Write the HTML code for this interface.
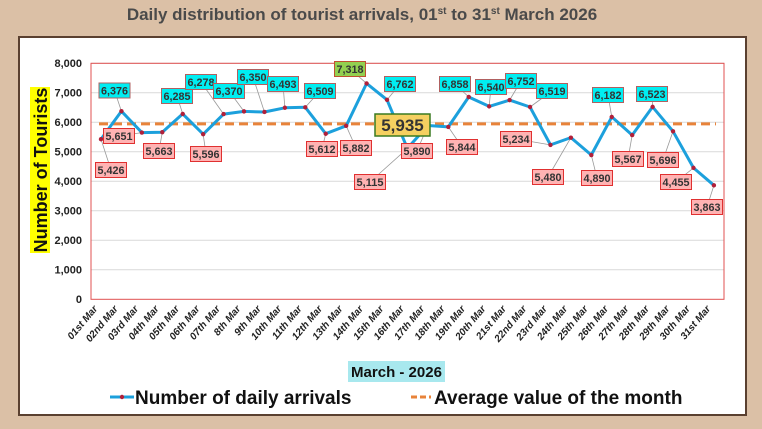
<!DOCTYPE html>
<html><head><meta charset="utf-8"><style>
html,body{margin:0;padding:0;background:#dbc0a6;}
svg{display:block;font-family:"Liberation Sans",sans-serif;}
</style></head><body>
<svg width="762" height="429" viewBox="0 0 762 429" xmlns="http://www.w3.org/2000/svg">
<rect x="0" y="0" width="762" height="429" fill="#dbc0a6"/>
<text x="362" y="20" text-anchor="middle" font-size="17" font-weight="bold" fill="#4a4a4a">Daily distribution of tourist arrivals, 01<tspan font-size="10" dy="-6">st</tspan><tspan dy="6"> to 31</tspan><tspan font-size="10" dy="-6">st</tspan><tspan dy="6"> March 2026</tspan></text>
<rect x="19" y="37" width="727" height="378" fill="#fff" stroke="#5a4030" stroke-width="2"/>
<g stroke="#d9d9d9" stroke-width="1">
<line x1="91" x2="724" y1="63.3" y2="63.3"/><line x1="91" x2="724" y1="92.8" y2="92.8"/><line x1="91" x2="724" y1="122.3" y2="122.3"/><line x1="91" x2="724" y1="151.8" y2="151.8"/><line x1="91" x2="724" y1="181.3" y2="181.3"/><line x1="91" x2="724" y1="210.8" y2="210.8"/><line x1="91" x2="724" y1="240.3" y2="240.3"/><line x1="91" x2="724" y1="269.8" y2="269.8"/>
</g>
<rect x="91" y="63.3" width="633" height="236" fill="none" stroke="#e05050" stroke-width="1"/>
<g font-size="11" font-weight="bold" fill="#222" text-anchor="end">
<text x="82" y="67">8,000</text><text x="82" y="96.5">7,000</text><text x="82" y="126">6,000</text><text x="82" y="155.5">5,000</text><text x="82" y="185">4,000</text><text x="82" y="214.5">3,000</text><text x="82" y="244">2,000</text><text x="82" y="273.5">1,000</text><text x="82" y="303">0</text>
</g>
<rect x="30" y="87" width="20" height="166" fill="#ffff00"/>
<text transform="translate(47,170) rotate(-90)" text-anchor="middle" font-size="18" font-weight="bold" fill="#111">Number of Tourists</text>
<line x1="99" x2="716" y1="123.9" y2="123.9" stroke="#e8833a" stroke-width="3" stroke-dasharray="9,5"/>
<g id="leaders" stroke="#999" stroke-width="0.8"></g>
<polyline id="ln" fill="none" stroke="#1ca0dc" stroke-width="3" stroke-linejoin="round"/>
<g id="mk" fill="#b0203a"></g>
<g id="lb" font-size="11" font-weight="bold" fill="#333" text-anchor="middle"></g>
<rect x="375" y="114" width="55" height="22" fill="#f5d060" stroke="#3a7a20" stroke-width="1.5"/>
<text x="402.5" y="131" text-anchor="middle" font-size="17" font-weight="bold" fill="#333">5,935</text>
<g id="xl" font-size="10" font-weight="bold" font-style="italic" fill="#222" text-anchor="end"></g>
<rect x="348" y="361" width="97" height="21" fill="#a8e8ee"/>
<text x="396.5" y="377" text-anchor="middle" font-size="15" font-weight="bold" fill="#111">March - 2026</text>
<line x1="110" x2="134" y1="397" y2="397" stroke="#1ca0dc" stroke-width="3"/>
<circle cx="122" cy="397" r="2.2" fill="#b0203a"/>
<text x="135" y="404" font-size="19" font-weight="bold" fill="#111">Number of daily arrivals</text>
<line x1="411" x2="431" y1="397" y2="397" stroke="#e8833a" stroke-width="3" stroke-dasharray="6,3"/>
<text x="434" y="404" font-size="19" font-weight="bold" fill="#111">Average value of the month</text>
</svg>
<script>
var d=[5426,6376,5651,5663,6285,5596,6278,6370,6350,6493,6509,5612,5882,7318,6762,5115,5890,5844,6858,6540,6752,6519,5234,5480,4890,6182,5567,6523,5696,4455,3863];
var L=[[111,170,0],[114.5,90.5,1],[119,136,0],[159,151,0],[177,96,1],[206,154,0],[201,82,1],[229,91,1],[253,77,1],[283,84,1],[320,91,1],[322,149,0],[356,148,0],[350,69,2],[400,84,1],[370,182,0],[417,151,0],[462,147,0],[455,84,1],[491,87,1],[521,81,1],[552,91,1],[516,139,0],[548,177,0],[597,178,0],[608,95,1],[628,159,0],[652,94,1],[663,160,0],[676,182,0],[707,207,0]];
var ns="http://www.w3.org/2000/svg",pts=[];
function el(t,a,p){var e=document.createElementNS(ns,t);for(var k in a)e.setAttribute(k,a[k]);document.getElementById(p).appendChild(e);return e;}
var names=["01st Mar","02nd Mar","03rd  Mar","04th Mar","05th Mar","06th Mar","07th Mar","8th Mar","9th Mar","10th Mar","11th Mar","12th Mar","13th Mar","14th Mar","15th Mar","16th Mar","17th Mar","18th Mar","19th Mar","20th Mar","21st Mar","22nd Mar","23rd Mar","24th Mar","25th Mar","26th Mar","27th Mar","28th Mar","29th Mar","30th Mar","31st Mar"];
for(var i=0;i<31;i++){var x=101+i*20.43,y=299.3-d[i]*0.0295;pts.push(x.toFixed(1)+","+y.toFixed(1));
el("circle",{cx:x,cy:y,r:2.2},"mk");
var l=L[i];el("line",{x1:x,y1:y,x2:l[0],y2:l[1]},"leaders");
var fill=l[2]==1?"#00eef2":(l[2]==2?"#92d050":"#ffb3b3"),st=l[2]==0?"#e03030":(l[2]==2?"#c05030":"#b06060");
el("rect",{x:l[0]-15.5,y:l[1]-7.5,width:31,height:15,fill:fill,stroke:st,"stroke-width":1},"lb");
var t=el("text",{x:l[0],y:l[1]+4,textLength:27,lengthAdjust:"spacingAndGlyphs"},"lb");t.textContent=d[i].toLocaleString("en-US");
var tx=el("text",{transform:"translate("+(x-3)+",309) rotate(-50)"},"xl");tx.textContent=names[i];}
document.getElementById("ln").setAttribute("points",pts.join(" "));
</script>
</body></html>
